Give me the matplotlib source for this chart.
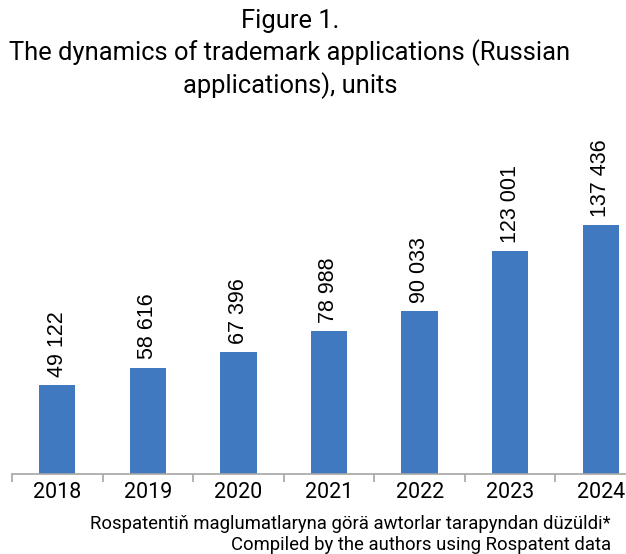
import numpy as np
import matplotlib
matplotlib.use("Agg")
import matplotlib.pyplot as plt

years = ["2018", "2019", "2020", "2021", "2022", "2023", "2024"]
applications = [49122, 58616, 67396, 78988, 90033, 123001, 137436]
value_labels = ["49 122", "58 616", "67 396", "78 988", "90 033", "123 001", "137 436"]

title_lines = "Figure 1.\nThe dynamics of trademark applications (Russian\napplications), units"
note_az = "Rospatentiň maglumatlaryna görä awtorlar tarapyndan düzüldi*"
note_en = "Compiled by the authors using Rospatent data"

W, H = 626, 554
fig = plt.figure(figsize=(W / 100, H / 100), dpi=100)

# axes in pixel coords: left 12, right 646 (runs past the edge), bottom 474, top 110
ax = fig.add_axes([12 / W, (H - 474) / H, 634 / W, 364 / H])

x = np.arange(len(years))
ax.bar(x, applications, width=0.4, color="#4079bf", zorder=2)
ax.set_xlim(-0.5, len(years) - 0.5)
ax.set_ylim(0, 364 * 552)

for xi, v, lab in zip(x, applications, value_labels):
    ax.annotate(lab, (xi, v), xytext=(0, 6), textcoords="offset points",
                rotation=90, ha="center", va="bottom",
                fontsize=15.5, family="Liberation Sans")

for s in ["top", "right", "left"]:
    ax.spines[s].set_visible(False)
ax.spines["bottom"].set_color("#a6a6a6")
ax.spines["bottom"].set_linewidth(1.2)
ax.set_yticks([])

ax.set_xticks(x)
ax.set_xticklabels(years, fontsize=15.5, family="Roboto")
ax.tick_params(axis="x", which="major", length=0, pad=6)
ax.set_xticks(np.arange(-0.5, len(years), 1), minor=True)
ax.tick_params(axis="x", which="minor", length=6, color="#a6a6a6", width=1.2)

fig.text(290 / W, 1 - 9 / H, title_lines, ha="center", va="top",
         fontsize=18.4, family="Roboto", linespacing=1.3)

fig.text(611 / W, 1 - 529 / H, note_az, ha="right", va="baseline",
         fontsize=13.3, family="Roboto")
fig.text(611 / W, 1 - 550 / H, note_en, ha="right", va="baseline",
         fontsize=13.3, family="Roboto")

fig.savefig("out.png", dpi=100)
